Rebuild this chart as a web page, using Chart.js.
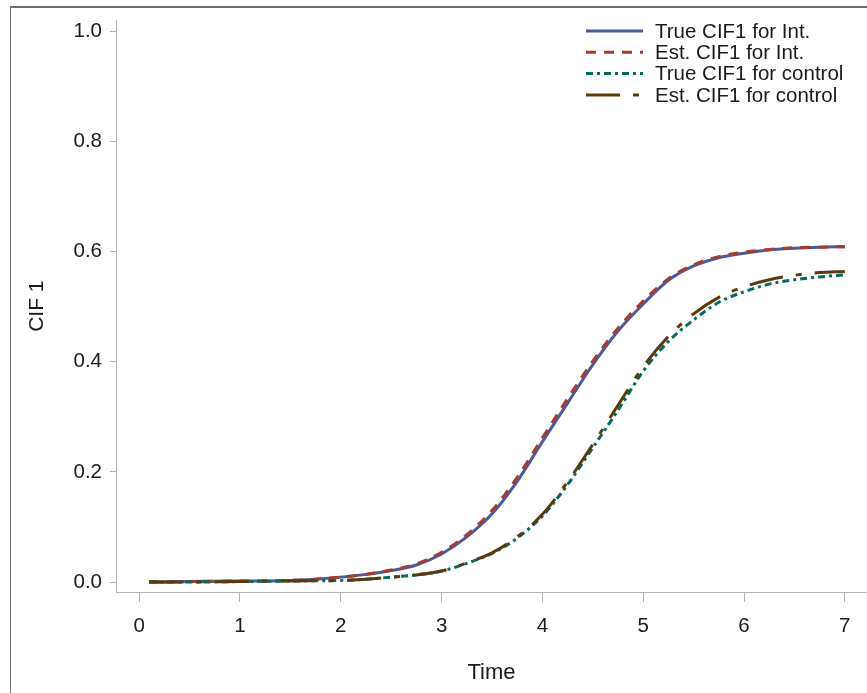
<!DOCTYPE html>
<html>
<head>
<meta charset="utf-8">
<script src="https://cdn.jsdelivr.net/npm/chart.js@4.4.1/dist/chart.umd.min.js"></script>
<style>
  html, body { margin:0; padding:0; background:#fff; }
  #wrap { position:relative; width:867px; height:693px; overflow:hidden; }
  #frame { position:absolute; left:10px; top:6px; width:900px; height:720px; border-left:1px solid #777; border-top:2px solid #6e6e6e; }
  canvas { position:absolute; left:0; top:0; }
</style>
</head>
<body>
<div id="wrap"><div id="frame"></div><canvas id="myChart" width="867" height="693"></canvas></div>
<script>
// values
const time     = [0.1, 0.5, 1, 1.5, 2, 2.25, 2.5, 2.75, 3, 3.25, 3.5, 3.75, 4, 4.25, 4.5, 4.75, 5, 5.25, 5.5, 5.75, 6, 6.25, 6.5, 6.75, 7];
const trueInt  = [0, 0.001, 0.002, 0.003, 0.009, 0.014, 0.021, 0.031, 0.051, 0.082, 0.124, 0.183, 0.255, 0.325, 0.395, 0.456, 0.505, 0.548, 0.574, 0.589, 0.597, 0.603, 0.606, 0.608, 0.609];
const estInt   = [0, 0.001, 0.002, 0.003, 0.009, 0.014, 0.022, 0.033, 0.054, 0.086, 0.130, 0.190, 0.262, 0.333, 0.401, 0.461, 0.510, 0.551, 0.576, 0.591, 0.599, 0.604, 0.607, 0.608, 0.609];
const trueCtl  = [0, 0, 0.001, 0.002, 0.003, 0.005, 0.009, 0.013, 0.020, 0.034, 0.052, 0.080, 0.120, 0.177, 0.244, 0.312, 0.383, 0.437, 0.476, 0.508, 0.527, 0.541, 0.549, 0.554, 0.558];
const estCtl   = [0, 0, 0.001, 0.002, 0.003, 0.005, 0.009, 0.013, 0.020, 0.035, 0.053, 0.082, 0.123, 0.182, 0.250, 0.321, 0.391, 0.446, 0.487, 0.517, 0.536, 0.549, 0.557, 0.562, 0.564];
const labels   = ['True CIF1 for Int.', 'Est. CIF1 for Int.', 'True CIF1 for control', 'Est. CIF1 for control'];
const xTicks   = [0, 1, 2, 3, 4, 5, 6, 7];
const yTicks   = [0, 0.2, 0.4, 0.6, 0.8, 1.0];

const FONT = '"Liberation Sans", Arial, sans-serif';
const pts = arr => arr.map((v, i) => ({x: time[i], y: v}));

const legendPlugin = {
  id: 'cifLegend',
  afterDraw(chart) {
    const ctx = chart.ctx;
    ctx.save();
    chart.data.datasets.forEach((ds, i) => {
      const y = 31 + i * 21.3;
      ctx.beginPath();
      ctx.setLineDash(ds.borderDash || []);
      ctx.lineWidth = 3;
      ctx.strokeStyle = ds.borderColor;
      ctx.moveTo(586, y);
      ctx.lineTo(643, y);
      ctx.stroke();
      ctx.setLineDash([]);
      ctx.fillStyle = '#1a1a1a';
      ctx.font = '20.5px ' + FONT;
      ctx.textBaseline = 'middle';
      ctx.fillText(ds.label, 655, y + 1);
    });
    ctx.restore();
  }
};

const common = {pointRadius: 0, borderWidth: 3, fill: false, cubicInterpolationMode: 'monotone'};

new Chart(document.getElementById('myChart'), {
  type: 'line',
  data: {
    datasets: [
      {...common, label: labels[0], data: pts(trueInt), borderColor: '#4a5a9e', order: 4},
      {...common, label: labels[1], data: pts(estInt), borderColor: '#a43d30', borderDash: [10, 8], order: 3},
      {...common, label: labels[2], data: pts(trueCtl), borderColor: '#006b5e', borderDash: [7, 4, 3, 4], order: 2},
      {...common, label: labels[3], data: pts(estCtl), borderColor: '#5a3a0c', borderDash: [34, 13, 6, 13], order: 1}
    ]
  },
  options: {
    responsive: false,
    animation: false,
    events: [],
    layout: {padding: {top: 9, right: 0, left: 0, bottom: 0}},
    plugins: {legend: {display: false}, tooltip: {enabled: false}},
    scales: {
      x: {
        type: 'linear',
        min: -0.23,
        max: 7.22,
        afterBuildTicks: s => { s.ticks = xTicks.map(v => ({value: v})); },
        afterFit: s => { s.height = 101; },
        grid: {drawOnChartArea: false, drawTicks: true, tickLength: 10, color: '#b4b4b4', lineWidth: 1},
        border: {color: '#b4b4b4', width: 1},
        ticks: {color: '#1a1a1a', font: {family: FONT, size: 20.5}, padding: 12, maxRotation: 0, callback: v => String(v)},
        title: {display: true, text: 'Time', color: '#1a1a1a', font: {family: FONT, size: 22}, padding: {top: 0, bottom: 7}}
      },
      y: {
        type: 'linear',
        min: -0.018,
        max: 1.02,
        afterBuildTicks: s => { s.ticks = yTicks.map(v => ({value: v})); },
        afterFit: s => { s.width = 116; },
        grid: {drawOnChartArea: false, drawTicks: true, tickLength: 6, color: '#b4b4b4', lineWidth: 1},
        border: {color: '#b4b4b4', width: 1},
        ticks: {color: '#1a1a1a', font: {family: FONT, size: 20.5}, padding: 8, callback: v => v.toFixed(1)},
        title: {display: true, text: 'CIF 1', color: '#1a1a1a', font: {family: FONT, size: 21}, padding: {top: 25, bottom: 0}}
      }
    }
  },
  plugins: [legendPlugin]
});
</script>
</body>
</html>
